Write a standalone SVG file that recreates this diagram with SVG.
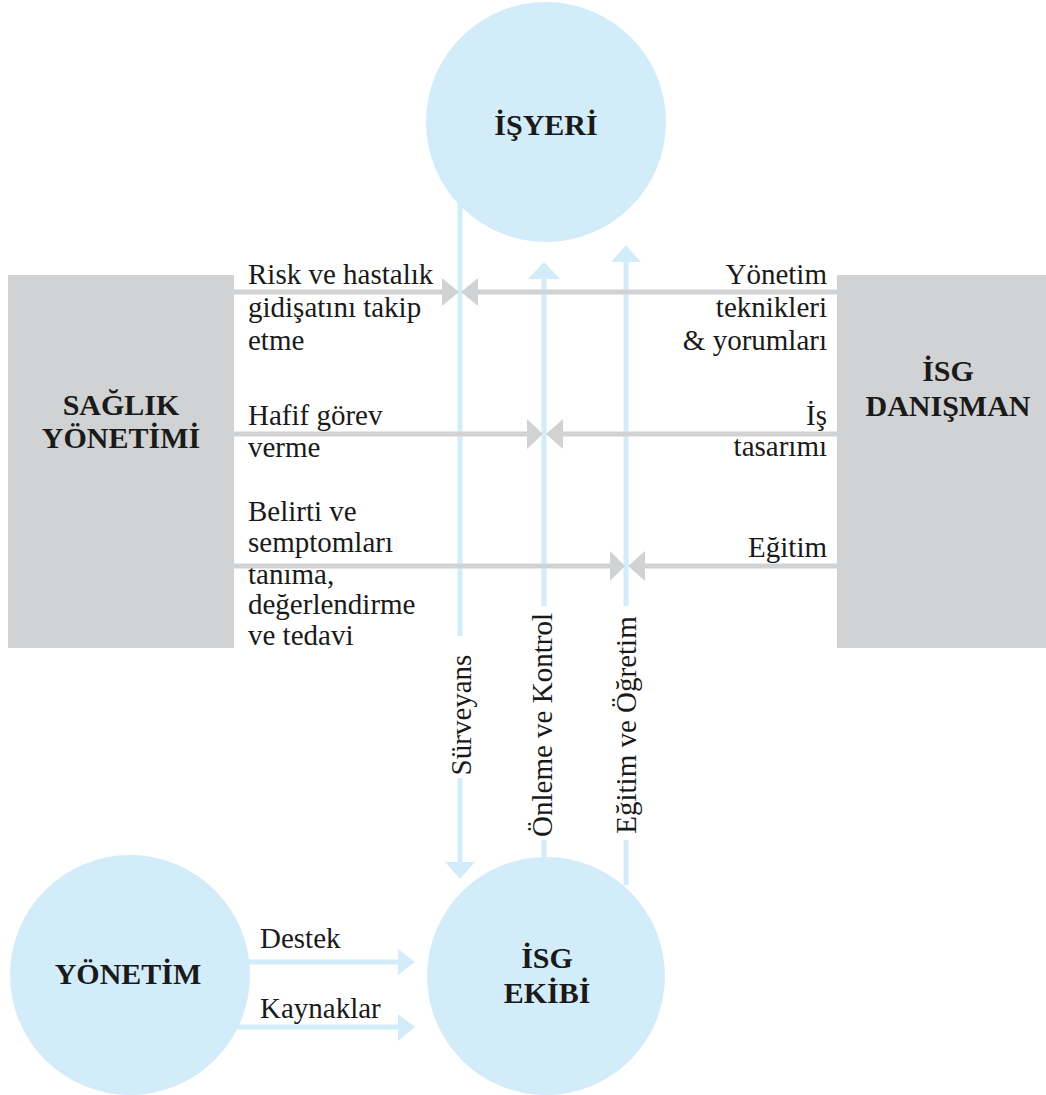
<svg xmlns="http://www.w3.org/2000/svg" width="1046" height="1095" viewBox="0 0 1046 1095">
<style>
.t{font-family:"Liberation Serif","Times New Roman",serif;font-size:29px;fill:#1a1a1a}
.b{font-family:"Liberation Serif","Times New Roman",serif;font-size:30px;font-weight:bold;fill:#1a1a1a;text-anchor:middle}
.e{text-anchor:end}
.m{text-anchor:middle}
.blue{fill:#d3ecf9}
.gray{fill:#d1d2d4}
.bl{stroke:#d3ecf9;stroke-width:5;fill:none}
.gl{stroke:#d1d2d4;stroke-width:5;fill:none}
</style>
<rect width="1046" height="1095" fill="#ffffff"/>

<g id="connectors-blue">
  <line class="bl" x1="460" y1="200" x2="460" y2="636"/>
  <line class="bl" x1="460" y1="778" x2="460" y2="864"/>
  <polygon class="blue" points="445,862 475,862 460,879"/>
  <line class="bl" x1="544" y1="278" x2="544" y2="606"/>
  <line class="bl" x1="544" y1="840" x2="544" y2="862"/>
  <polygon class="blue" points="528,279 560,279 544,262"/>
  <line class="bl" x1="626" y1="261" x2="626" y2="606"/>
  <line class="bl" x1="626" y1="840" x2="626" y2="885"/>
  <polygon class="blue" points="611,262 641,262 626,245"/>
  <line class="bl" x1="240" y1="962" x2="400" y2="962"/>
  <polygon class="blue" points="398,949 398,975 415,962"/>
  <line class="bl" x1="230" y1="1027" x2="400" y2="1027"/>
  <polygon class="blue" points="398,1014 398,1041 415,1027"/>
</g>

<g id="node-isyeri">
  <circle class="blue" cx="546" cy="122" r="120"/>
  <text class="b" x="546" y="135">İŞYERİ</text>
</g>
<g id="node-saglik">
  <rect class="gray" x="8" y="275" width="226" height="373"/>
  <text class="b" x="121" y="415">SAĞLIK</text>
  <text class="b" x="121" y="448">YÖNETİMİ</text>
</g>
<g id="node-danisman">
  <rect class="gray" x="837" y="275" width="209" height="373"/>
  <text class="b" x="948" y="381">İSG</text>
  <text class="b" x="948" y="416">DANIŞMAN</text>
</g>
<g id="node-yonetim">
  <circle class="blue" cx="130" cy="975" r="120"/>
  <text class="b" x="128" y="984">YÖNETİM</text>
</g>
<g id="node-isg-ekibi">
  <circle class="blue" cx="546" cy="976" r="119"/>
  <text class="b" x="547" y="968">İSG</text>
  <text class="b" x="547" y="1003">EKİBİ</text>
</g>

<g id="labels">
  <text class="t" x="248" y="284">Risk ve hastalık</text>
  <text class="t" x="248" y="317">gidişatını takip</text>
  <text class="t" x="248" y="350">etme</text>
  <text class="t" x="248" y="425">Hafif görev</text>
  <text class="t" x="248" y="457">verme</text>
  <text class="t" x="248" y="521">Belirti ve</text>
  <text class="t" x="248" y="552">semptomları</text>
  <text class="t" x="248" y="584">tanıma,</text>
  <text class="t" x="248" y="614">değerlendirme</text>
  <text class="t" x="248" y="645">ve tedavi</text>
  <text class="t e" x="827" y="284">Yönetim</text>
  <text class="t e" x="827" y="317">teknikleri</text>
  <text class="t e" x="827" y="350">&amp; yorumları</text>
  <text class="t e" x="827" y="425">İş</text>
  <text class="t e" x="827" y="456">tasarımı</text>
  <text class="t e" x="827" y="557">Eğitim</text>
  <text class="t m" transform="translate(471,715) rotate(-90)">Sürveyans</text>
  <text class="t m" transform="translate(552,725) rotate(-90)">Önleme ve Kontrol</text>
  <text class="t m" transform="translate(636,725) rotate(-90)">Eğitim ve Öğretim</text>
  <text class="t" x="260" y="948">Destek</text>
  <text class="t" x="260" y="1018">Kaynaklar</text>
</g>

<g id="connectors-gray">
  <line class="gl" x1="234" y1="292" x2="444" y2="292"/>
  <polygon class="gray" points="442,278 442,306 459,292"/>
  <line class="gl" x1="837" y1="292" x2="476" y2="292"/>
  <polygon class="gray" points="478,278 478,306 461,292"/>
  <line class="gl" x1="234" y1="434" x2="529" y2="434"/>
  <polygon class="gray" points="527,419 527,449 543,434"/>
  <line class="gl" x1="837" y1="434" x2="561" y2="434"/>
  <polygon class="gray" points="563,419 563,449 546,434"/>
  <line class="gl" x1="234" y1="566" x2="612" y2="566"/>
  <polygon class="gray" points="610,551 610,581 625,566"/>
  <line class="gl" x1="837" y1="566" x2="643" y2="566"/>
  <polygon class="gray" points="645,551 645,581 628,566"/>
</g>
</svg>
